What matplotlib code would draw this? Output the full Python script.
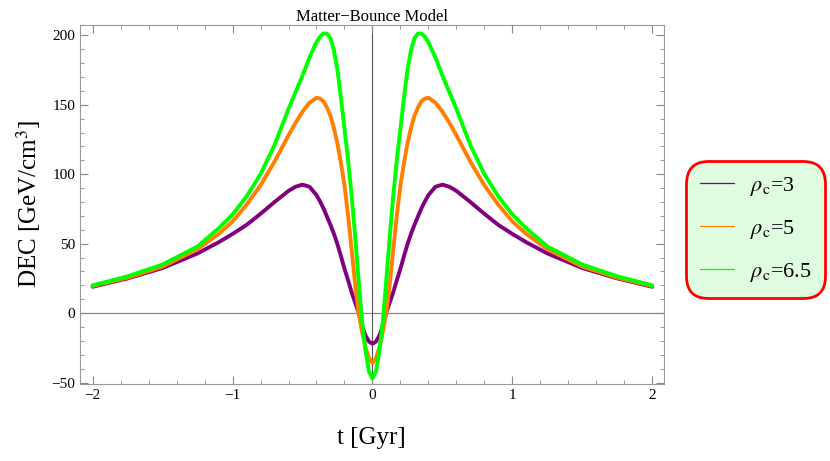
import matplotlib
matplotlib.use("Agg")
import matplotlib.pyplot as plt
from matplotlib.ticker import MultipleLocator

plt.rcParams['font.family'] = ['Liberation Serif', 'DejaVu Serif']
plt.rcParams['mathtext.fontset'] = 'stix'

# left half of the curves (t <= 0); right half is the mirror
t_half = [-2.0, -1.75, -1.5, -1.25, -1.1, -1.0, -0.9, -0.8, -0.7, -0.6, -0.55, -0.5,
          -0.45, -0.4, -0.375, -0.35, -0.325, -0.3, -0.275, -0.25, -0.225, -0.2,
          -0.175, -0.15, -0.125, -0.1, -0.075, -0.05, -0.025, 0.0]
dec_rho3 = [19, 25, 32.5, 43, 51, 57, 63.5, 71.5, 80, 88, 91, 92.5,
            91, 85, 80.5, 75.5, 69.5, 63.5, 57, 49.5, 41, 32,
            24, 15.5, 8, 1, -9, -16, -20.5, -22]
dec_rho5 = [19.5, 25.5, 33.5, 46, 57, 66, 78, 92, 109, 128, 137, 145,
            151.5, 155, 154.5, 152.5, 148, 142, 133, 122, 108, 92,
            71, 47, 22, 1, -13, -24.5, -32.5, -36]
dec_rho65 = [20, 26.5, 35, 48, 61, 71, 84, 100, 121, 147, 159, 171,
             184, 195, 199, 201.3, 201.2, 198, 189, 175, 155, 133,
             111, 86, 57, 25, -5, -27, -42, -47]

series = [
    (dec_rho3, '#800080', r'$\rho_{\rm c}$=3'),
    (dec_rho5, '#ff7f00', r'$\rho_{\rm c}$=5'),
    (dec_rho65, '#00ff00', r'$\rho_{\rm c}$=6.5'),
]

t_full = t_half + [-v for v in t_half[-2::-1]]

fig = plt.figure(figsize=(8.3, 4.61), dpi=100)
ax = fig.add_axes([0.0964, 0.167, 0.703, 0.779])

ax.axhline(0, color='#888888', lw=0.9, zorder=1)
ax.axvline(0, color='#555555', lw=0.8, zorder=1)

for vals, col, lab in series:
    full = vals + vals[-2::-1]
    ax.plot(t_full, full, color=col, lw=2.8, label=lab, zorder=3,
            solid_joinstyle='round', solid_capstyle='round')

ax.set_xlim(-2.09, 2.08)
ax.set_ylim(-51, 207.5)
ax.xaxis.set_major_locator(MultipleLocator(1))
ax.xaxis.set_minor_locator(MultipleLocator(0.2))
ax.yaxis.set_major_locator(MultipleLocator(50))
ax.yaxis.set_minor_locator(MultipleLocator(10))
ax.tick_params(which='both', direction='in', top=True, right=True,
               color='#888888', labelsize=11)
ax.tick_params(which='major', length=6)
ax.tick_params(which='minor', length=3)
ax.set_xticks([-2, -1, 0, 1, 2])
ax.set_xticklabels(['\u22122', '\u22121', '0', '1', '2'])
ax.set_yticks([-50, 0, 50, 100, 150, 200])
ax.set_yticklabels(['\u221250', '0', '50', '100', '150', '200'])
for sp in ax.spines.values():
    sp.set_color('#999999')

ax.set_title('Matter\u2212Bounce Model', fontsize=12, pad=2)
ax.set_xlabel('t [Gyr]', fontsize=18, labelpad=18)
ax.set_ylabel(r'DEC [GeV/cm$^3$]', fontsize=18, labelpad=6)

handles, labels = ax.get_legend_handles_labels()
leg = fig.legend(handles, labels, loc='center', bbox_to_anchor=(0.9102, 0.502),
                 fontsize=16, frameon=True, fancybox=True, handlelength=1.55,
                 labelspacing=0.9, borderpad=0.62, handletextpad=0.7,
                 borderaxespad=0)
for h in leg.get_lines():
    h.set_linewidth(0.9)
frame = leg.get_frame()
frame.set_edgecolor('red')
frame.set_linewidth(2)
frame.set_facecolor('#e0fce0')
frame.set_alpha(1)
frame.set_boxstyle('round', pad=0, rounding_size=1.0)

fig.savefig('out.png', dpi=100)
